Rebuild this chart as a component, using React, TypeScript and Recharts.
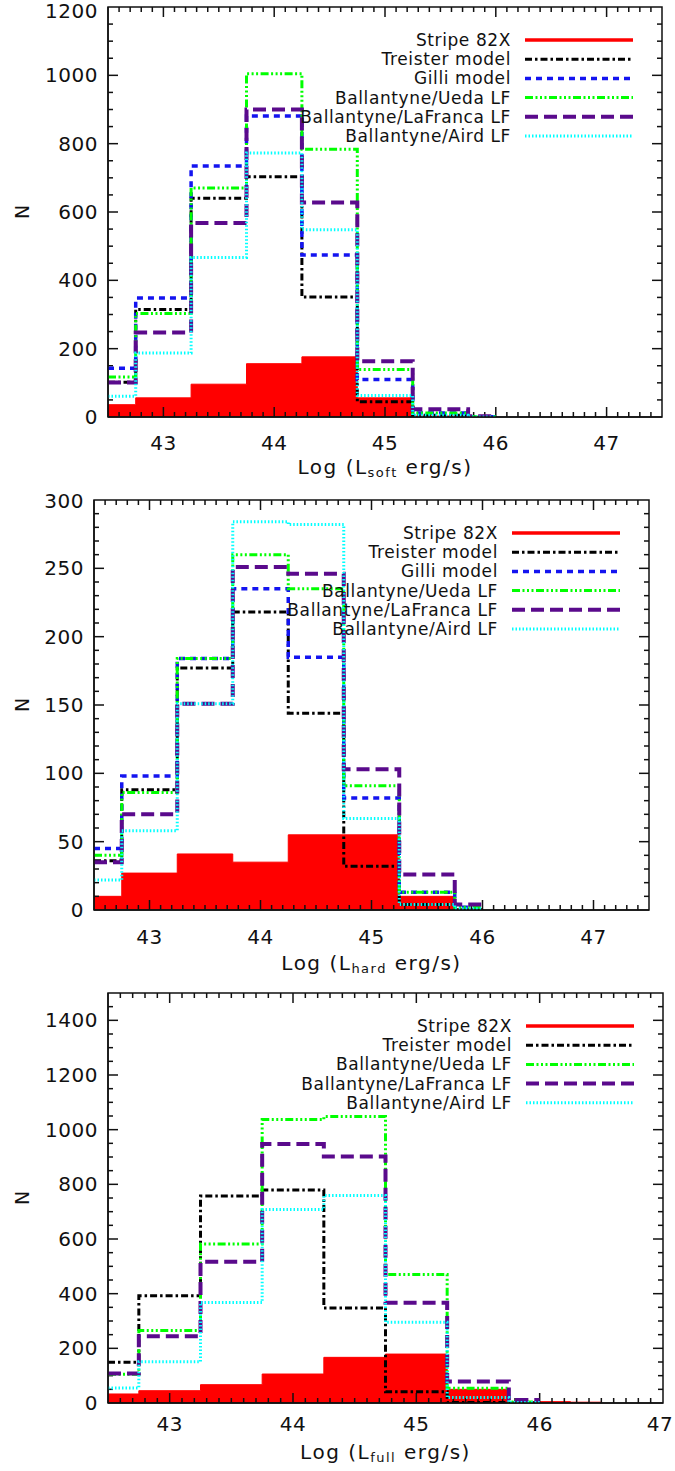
import { ComposedChart, Line, Area, XAxis, YAxis, ReferenceArea, ReferenceLine } from 'recharts'

// bin centres (log L), 0.5 dex wide
const BINS = [42.5, 43.0, 43.5, 44.0, 44.5, 45.0, 45.5, 46.0]
const BINS_FULL = [42.5, 43.0, 43.5, 44.0, 44.5, 45.0, 45.5, 46.0, 46.5]

// soft band
const SOFT_STRIPE = [36, 56, 96, 156, 176, 56, 3, 0]
const SOFT_TREISTER = [102, 315, 640, 703, 351, 45, 5, 0]
const SOFT_GILLI = [143, 348, 735, 881, 474, 110, 12, 1]
const SOFT_UEDA = [117, 303, 670, 1005, 784, 139, 12, 1]
const SOFT_LAFRANCA = [101, 247, 568, 900, 628, 163, 23, 2]
const SOFT_AIRD = [61, 187, 467, 773, 548, 63, 5, 0]

// hard band
const HARD_STRIPE = [10, 27, 41, 35, 55, 55, 10, 1]
const HARD_TREISTER = [36, 88, 177, 218, 144, 32, 4, 0]
const HARD_GILLI = [45, 98, 184, 235, 185, 82, 13, 2]
const HARD_UEDA = [40, 86, 184, 260, 235, 91, 13, 2]
const HARD_LAFRANCA = [35, 70, 151, 251, 246, 103, 26, 4]
const HARD_AIRD = [22, 58, 151, 284, 282, 67, 4, 1]

// full band
const FULL_STRIPE = [33, 45, 67, 106, 167, 179, 50, 5, 3]
const FULL_TREISTER = [149, 392, 757, 779, 348, 41, 2, 0]
const FULL_UEDA = [105, 265, 582, 1037, 1048, 470, 54, 4]
const FULL_LAFRANCA = [108, 244, 517, 948, 902, 367, 79, 11]
const FULL_AIRD = [55, 151, 368, 708, 759, 295, 20, 2]

const X_LABELS = [43, 44, 45, 46, 47]
const Y_LABELS_SOFT = [0, 200, 400, 600, 800, 1000, 1200]
const Y_LABELS_HARD = [0, 50, 100, 150, 200, 250, 300]
const Y_LABELS_FULL = [0, 200, 400, 600, 800, 1000, 1200, 1400]

const STYLE: Record<string, { name: string; color: string; dash?: string; width: number }> = {
  stripe: { name: 'Stripe 82X', color: '#FF0000', width: 3.5 },
  treister: { name: 'Treister model', color: '#000000', dash: '7 3 2.5 3', width: 3 },
  gilli: { name: 'Gilli model', color: '#1414F0', dash: '6 5', width: 3.5 },
  ueda: { name: 'Ballantyne/Ueda LF', color: '#00FF00', dash: '8 2.5 2 2.5 2 2.5 2 2.5', width: 3 },
  lafranca: { name: 'Ballantyne/LaFranca LF', color: '#5A0A8C', dash: '13 6', width: 4 },
  aird: { name: 'Ballantyne/Aird LF', color: '#00FFFF', dash: '1.5 2', width: 3 },
}

const FONT = '"DejaVu Sans", sans-serif'
const AXIS = '#111'

function table(xs: number[], cols: Record<string, number[]>) {
  return xs.map((x, i) => {
    const row: Record<string, number | undefined> = { x }
    for (const k of Object.keys(cols)) row[k] = cols[k][i]
    return row
  })
}

function tenths(from: number, to: number) {
  const out: number[] = []
  for (let i = Math.round(from * 10); i <= Math.round(to * 10); i++) out.push(i / 10)
  return out
}

type Panel = {
  top: number
  height: number
  plotTop: number
  plotBottom: number
  plotLeft: number
  plotRight: number
  xDomain: [number, number]
  yDomain: [number, number]
  yLabels: number[]
  yMinor: number
  sub: string
  labelGap: number
  titleGap: number
  data: Record<string, number | undefined>[]
  lines: string[]
  legendRows: number
}

const PANELS: Panel[] = [
  {
    top: 0, height: 490, plotTop: 7, plotBottom: 417, plotLeft: 108, plotRight: 662,
    xDomain: [42.5, 47.5], yDomain: [0, 1200], yLabels: Y_LABELS_SOFT, yMinor: 50, sub: 'soft',
    labelGap: 26, titleGap: 50,
    data: table(BINS, { stripe: SOFT_STRIPE, treister: SOFT_TREISTER, gilli: SOFT_GILLI, ueda: SOFT_UEDA, lafranca: SOFT_LAFRANCA, aird: SOFT_AIRD }),
    lines: ['treister', 'gilli', 'ueda', 'lafranca', 'aird'], legendRows: 40,
  },
  {
    top: 490, height: 490, plotTop: 500, plotBottom: 910, plotLeft: 94, plotRight: 649,
    xDomain: [42.5, 47.5], yDomain: [0, 300], yLabels: Y_LABELS_HARD, yMinor: 10, sub: 'hard',
    labelGap: 27, titleGap: 53,
    data: table(BINS, { stripe: HARD_STRIPE, treister: HARD_TREISTER, gilli: HARD_GILLI, ueda: HARD_UEDA, lafranca: HARD_LAFRANCA, aird: HARD_AIRD }),
    lines: ['treister', 'gilli', 'ueda', 'lafranca', 'aird'], legendRows: 533,
  },
  {
    top: 980, height: 491, plotTop: 993, plotBottom: 1403, plotLeft: 108, plotRight: 663,
    xDomain: [42.5, 47.0], yDomain: [0, 1500], yLabels: Y_LABELS_FULL, yMinor: 50, sub: 'full',
    labelGap: 21, titleGap: 49,
    data: table(BINS_FULL, { stripe: FULL_STRIPE, treister: FULL_TREISTER, ueda: FULL_UEDA, lafranca: FULL_LAFRANCA, aird: FULL_AIRD }),
    lines: ['treister', 'ueda', 'lafranca', 'aird'], legendRows: 1026,
  },
]

function HistPanel({ p }: { p: Panel }) {
  const top = p.plotTop - p.top
  const bottom = p.plotBottom - p.top
  const xAxisH = p.top + p.height - p.plotBottom
  const xTicks = tenths(p.xDomain[0], p.xDomain[1])
  const yTicks: number[] = []
  for (let v = p.yDomain[0]; v <= p.yDomain[1]; v += p.yMinor) yTicks.push(v)

  // data units per pixel, for the inward tick marks on all four sides
  const [x0, x1] = p.xDomain
  const [y0, y1] = p.yDomain
  const xpp = (x1 - x0) / (p.plotRight - p.plotLeft)
  const ypp = (y1 - y0) / (p.plotBottom - p.plotTop)

  const xTick = (props: any) => {
    const { x, payload } = props
    const v = payload.value
    if (!X_LABELS.includes(v)) return <g />
    const lx = Math.min(x, 660)
    return (
      <text x={lx} y={bottom + p.labelGap} textAnchor="middle" dominantBaseline="central"
        fontFamily={FONT} fontSize={20} letterSpacing={0.5} fill="#111">{v}</text>
    )
  }

  const yTick = (props: any) => {
    const { y, payload } = props
    const v = payload.value
    if (!p.yLabels.includes(v)) return <g />
    const ly = Math.max(y, 11)
    return (
      <text x={p.plotLeft - 10} y={ly} textAnchor="end" dominantBaseline="central"
        fontFamily={FONT} fontSize={20} letterSpacing={0.5} fill="#111">{v}</text>
    )
  }

  const cx = (p.plotLeft + p.plotRight) / 2
  const cy = (top + bottom) / 2

  return (
    <div style={{ position: 'absolute', left: 0, top: p.top, width: 675, height: p.height }}>
      <ComposedChart width={675} height={p.height} data={p.data}
        margin={{ top, right: 675 - p.plotRight, left: 0, bottom: 0 }}>
        <XAxis dataKey="x" type="number" domain={p.xDomain} ticks={xTicks} interval={0}
          allowDataOverflow height={xAxisH} tickLine={false} tick={xTick}
          axisLine={{ stroke: AXIS, strokeWidth: 1.5 }} />
        <YAxis type="number" domain={p.yDomain} ticks={yTicks} interval={0}
          allowDataOverflow width={p.plotLeft} tickLine={false} tick={yTick}
          axisLine={{ stroke: AXIS, strokeWidth: 1.5 }} />
        {xTicks.filter(v => v > x0 && v < x1).map(v => {
          const len = (X_LABELS.includes(v) ? 10 : 5) * ypp
          return [
            <ReferenceLine key={`xb${v}`} segment={[{ x: v, y: y0 }, { x: v, y: y0 + len }]}
              stroke={AXIS} strokeWidth={1.5} ifOverflow="visible" />,
            <ReferenceLine key={`xt${v}`} segment={[{ x: v, y: y1 }, { x: v, y: y1 - len }]}
              stroke={AXIS} strokeWidth={1.5} ifOverflow="visible" />,
          ]
        })}
        {yTicks.filter(v => v > y0 && v < y1).map(v => {
          const len = (p.yLabels.includes(v) ? 10 : 5) * xpp
          return [
            <ReferenceLine key={`yl${v}`} segment={[{ x: x0, y: v }, { x: x0 + len, y: v }]}
              stroke={AXIS} strokeWidth={1.5} ifOverflow="visible" />,
            <ReferenceLine key={`yr${v}`} segment={[{ x: x1, y: v }, { x: x1 - len, y: v }]}
              stroke={AXIS} strokeWidth={1.5} ifOverflow="visible" />,
          ]
        })}
        <Area dataKey="stripe" type="step" stroke="#FF0000" strokeWidth={1} fill="#FF0000"
          fillOpacity={1} dot={false} activeDot={false} isAnimationActive={false} />
        {p.lines.map(k => (
          <Line key={k} dataKey={k} type="step" stroke={STYLE[k].color} strokeWidth={STYLE[k].width}
            strokeDasharray={STYLE[k].dash} dot={false} activeDot={false} isAnimationActive={false} />
        ))}
        <ReferenceArea x1={x0} x2={x1} y1={y0} y2={y1}
          fill="none" fillOpacity={0} stroke={AXIS} strokeWidth={1.5} />
      </ComposedChart>
      <svg width={675} height={p.height} style={{ position: 'absolute', left: 0, top: 0, pointerEvents: 'none' }}>
        <text x={cx} y={bottom + p.titleGap} textAnchor="middle" dominantBaseline="central"
          fontFamily={FONT} fontSize={20} letterSpacing={1.5} fill="#111">
          Log (L<tspan fontSize={13} dy={5}>{p.sub}</tspan><tspan dy={-5}> erg/s)</tspan>
        </text>
        <text x={22} y={cy} textAnchor="middle" dominantBaseline="central"
          transform={`rotate(-90 22 ${cy})`} fontFamily={FONT} fontSize={19} fill="#111">N</text>
        {['stripe', ...p.lines].map((k, i) => {
          const y = p.legendRows - p.top + i * 19.2
          const textRight = p.plotRight - 151
          const s = STYLE[k]
          return (
            <g key={k}>
              <text x={textRight} y={y} textAnchor="end" dominantBaseline="central"
                fontFamily={FONT} fontSize={17} letterSpacing={0.6} fill="#111">{s.name}</text>
              <line x1={textRight + 14} x2={textRight + 122} y1={y} y2={y} stroke={s.color}
                strokeWidth={s.width} strokeDasharray={s.dash} />
            </g>
          )
        })}
      </svg>
    </div>
  )
}

export default function App() {
  return (
    <div style={{ position: 'absolute', left: 0, top: 0, width: 675, height: 1471, background: '#fff' }}>
      {PANELS.map((p, i) => <HistPanel key={i} p={p} />)}
    </div>
  )
}
